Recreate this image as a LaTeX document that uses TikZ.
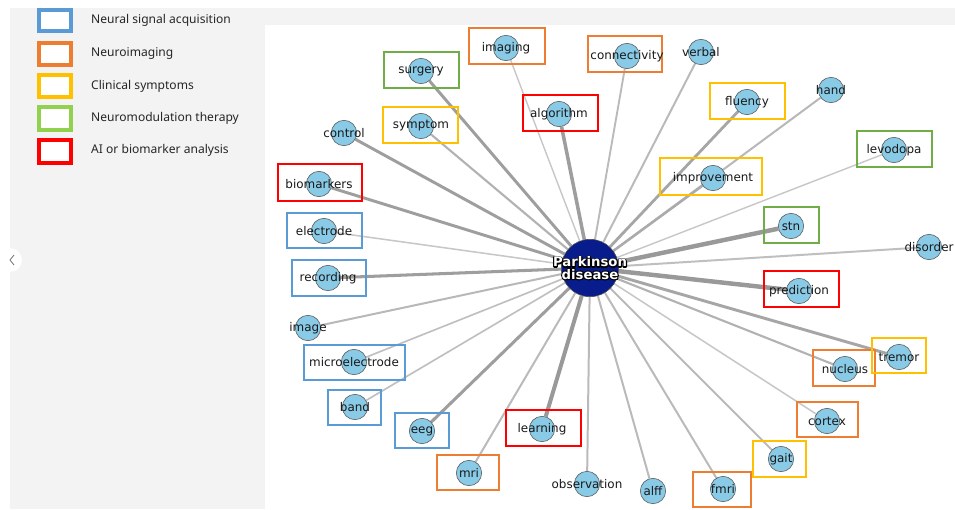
\documentclass[tikz,border=0pt]{standalone}
\usepackage{fontspec}
\setmainfont{DejaVu Sans}
\newfontfamily\legendfont{Noto Sans}
\usetikzlibrary{backgrounds}
\definecolor{panelgray}{RGB}{243,243,243}
\definecolor{sigblue}{RGB}{91,155,213}
\definecolor{imgorange}{RGB}{237,125,49}
\definecolor{symyellow}{RGB}{255,192,0}
\definecolor{modgreen}{RGB}{112,173,71}
\definecolor{modgreenlt}{RGB}{146,208,80}
\definecolor{aired}{RGB}{255,0,0}
\definecolor{termblue}{RGB}{137,202,230}
\definecolor{hubblue}{RGB}{8,28,140}
% white word with a dark halo: stroked copy under the filled one
\newcommand{\haloword}[1]{\rlap{\special{pdf:literal direct 1 Tr 1.9 w 0 G 1 j}#1\special{pdf:literal direct 0 Tr}}#1}
\pgfdeclarelayer{back}
\pgfdeclarelayer{links}
\pgfsetlayers{back,links,main}

\begin{document}
\begin{tikzpicture}[x=0.3mm, y=-0.3mm,
    term/.style={circle, fill=termblue, draw=black!65, line width=0.5pt, minimum size=7.6mm, inner sep=0pt},
    word/.style={font=\fontsize{10.2}{12}\selectfont, text=black!90, inner sep=0pt},
    hub/.style={circle, fill=hubblue, draw=black!70, line width=0.5pt, minimum size=17.2mm, inner sep=0pt},
    catbox/.style={draw=#1, line width=2.1pt},
    keybox/.style={draw=#1, line width=3.2pt, fill=white},
    keytext/.style={font=\legendfont\fontsize{10.3}{12}\selectfont, anchor=west, text=black!85, inner sep=0pt},
    link/.style={draw=black!#1, line cap=butt}]
  \useasboundingbox (0,0) rectangle (955,509);

  % panels
  \begin{pgfonlayer}{back}
    \fill[white] (0,0) rectangle (955,509);
    \fill[panelgray] (10,8) rectangle (265,509);
    \fill[panelgray] (265,8) rectangle (955,25);
    \fill[white] (10,260) circle (12);
    \draw[black!55, line width=0.7pt] (14,255) -- (10,260) -- (14,265);
  \end{pgfonlayer}

  % legend
  \draw[keybox=sigblue] (39,10) rectangle (71,31);
  \node[keytext] (key1) at (91,20) {Neural signal acquisition};
  \draw[keybox=imgorange] (39,43) rectangle (71,65);
  \node[keytext] (key2) at (91,53) {Neuroimaging};
  \draw[keybox=symyellow] (39,75) rectangle (71,97);
  \node[keytext] (key3) at (91,86) {Clinical symptoms};
  \draw[keybox=modgreenlt] (39,107) rectangle (71,130);
  \node[keytext] (key4) at (91,118) {Neuromodulation therapy};
  \draw[keybox=aired] (39,140) rectangle (71,163);
  \node[keytext] (key5) at (91,150) {AI or biomarker analysis};

  % category boxes
  \draw[catbox=modgreen] (384,52) rectangle (459,88);
  \draw[catbox=imgorange] (469,28) rectangle (545,64);
  \draw[catbox=imgorange] (588,36) rectangle (662,72);
  \draw[catbox=aired] (523,95) rectangle (598,131);
  \draw[catbox=symyellow] (383,107) rectangle (458,143);
  \draw[catbox=aired] (278,164) rectangle (362,201);
  \draw[catbox=symyellow] (710,83) rectangle (785,119);
  \draw[catbox=modgreen] (857,131) rectangle (932,167);
  \draw[catbox=symyellow] (660,158) rectangle (762,195);
  \draw[catbox=sigblue] (287,213) rectangle (362,248);
  \draw[catbox=sigblue] (292,260) rectangle (366,296);
  \draw[catbox=sigblue] (304,345) rectangle (405,380);
  \draw[catbox=sigblue] (328,390) rectangle (381,425);
  \draw[catbox=sigblue] (395,413) rectangle (449,448);
  \draw[catbox=aired] (506,410) rectangle (581,446);
  \draw[catbox=imgorange] (437,455) rectangle (499,490);
  \draw[catbox=modgreen] (764,207) rectangle (819,243);
  \draw[catbox=aired] (764,271) rectangle (839,307);
  \draw[catbox=imgorange] (813,350) rectangle (875,386);
  \draw[catbox=symyellow] (872,338) rectangle (926,373);
  \draw[catbox=imgorange] (797,402) rectangle (858,437);
  \draw[catbox=symyellow] (753,441) rectangle (806,477);
  \draw[catbox=imgorange] (693,472) rectangle (751,507);

  % terms
  \node[hub] (pd) at (590,268) {};
  \node[term] (surgery) at (421,71) {};
  \node[term] (imaging) at (506,48) {};
  \node[term] (connectivity) at (627,56) {};
  \node[term] (algorithm) at (559,114) {};
  \node[term] (control) at (344,133) {};
  \node[term] (symptom) at (421,126) {};
  \node[term] (biomarkers) at (319,184) {};
  \node[term] (verbal) at (701,52) {};
  \node[term] (fluency) at (747,102) {};
  \node[term] (hand) at (831,90) {};
  \node[term] (levodopa) at (894,150) {};
  \node[term] (improvement) at (713,178) {};
  \node[term] (electrode) at (324,231) {};
  \node[term] (recording) at (328,278) {};
  \node[term] (image) at (308,328) {};
  \node[term] (microelectrode) at (354,362) {};
  \node[term] (band) at (355,407) {};
  \node[term] (eeg) at (422,431) {};
  \node[term] (learning) at (542,429) {};
  \node[term] (mri) at (469,473) {};
  \node[term] (observation) at (587,484) {};
  \node[term] (stn) at (791,226) {};
  \node[term] (disorder) at (929,247) {};
  \node[term] (prediction) at (799,291) {};
  \node[term] (tremor) at (899,357) {};
  \node[term] (nucleus) at (845,369) {};
  \node[term] (cortex) at (827,421) {};
  \node[term] (gait) at (781,459) {};
  \node[term] (fmri) at (723,489) {};
  \node[term] (alff) at (653,491) {};

  % links to the hub
  \begin{pgfonlayer}{links}
    \draw[link=38, line width=2.5pt] (pd) -- (surgery);
    \draw[link=22, line width=1.2pt] (pd) -- (imaging);
    \draw[link=27, line width=1.6pt] (pd) -- (connectivity);
    \draw[link=38, line width=3pt] (pd) -- (algorithm);
    \draw[link=38, line width=2.5pt] (pd) -- (control);
    \draw[link=30, line width=1.8pt] (pd) -- (symptom);
    \draw[link=38, line width=2.5pt] (pd) -- (biomarkers);
    \draw[link=27, line width=1.7pt] (pd) -- (verbal);
    \draw[link=35, line width=2.4pt] (pd) -- (fluency);
    \draw[link=28, line width=1.7pt] (pd) -- (hand);
    \draw[link=22, line width=1.2pt] (pd) -- (levodopa);
    \draw[link=33, line width=2.1pt] (pd) -- (improvement);
    \draw[link=22, line width=1.3pt] (pd) -- (electrode);
    \draw[link=38, line width=2.6pt] (pd) -- (recording);
    \draw[link=28, line width=1.7pt] (pd) -- (image);
    \draw[link=25, line width=1.4pt] (pd) -- (microelectrode);
    \draw[link=25, line width=1.4pt] (pd) -- (band);
    \draw[link=38, line width=2.6pt] (pd) -- (eeg);
    \draw[link=40, line width=3.4pt] (pd) -- (learning);
    \draw[link=27, line width=1.7pt] (pd) -- (mri);
    \draw[link=27, line width=1.7pt] (pd) -- (observation);
    \draw[link=40, line width=3.8pt] (pd) -- (stn);
    \draw[link=25, line width=1.7pt] (pd) -- (disorder);
    \draw[link=40, line width=3.8pt] (pd) -- (prediction);
    \draw[link=35, line width=2.5pt] (pd) -- (tremor);
    \draw[link=30, line width=1.8pt] (pd) -- (nucleus);
    \draw[link=22, line width=1.3pt] (pd) -- (cortex);
    \draw[link=27, line width=1.7pt] (pd) -- (gait);
    \draw[link=27, line width=1.7pt] (pd) -- (fmri);
    \draw[link=27, line width=1.7pt] (pd) -- (alff);
  \end{pgfonlayer}

  % labels
  \node[text=white, align=center, font=\bfseries\fontsize{11.3}{10.5}\selectfont, inner sep=0pt]
    (pd-t) at (pd) {\haloword{Parkinson}\\\haloword{disease}};
  \node[word] (surgery-t) at (surgery) {surgery};
  \node[word] (imaging-t) at (imaging) {imaging};
  \node[word] (connectivity-t) at (connectivity) {connectivity};
  \node[word] (algorithm-t) at (algorithm) {algorithm};
  \node[word] (control-t) at (control) {control};
  \node[word] (symptom-t) at (symptom) {symptom};
  \node[word] (biomarkers-t) at (biomarkers) {biomarkers};
  \node[word] (verbal-t) at (verbal) {verbal};
  \node[word] (fluency-t) at (fluency) {fluency};
  \node[word] (hand-t) at (hand) {hand};
  \node[word] (levodopa-t) at (levodopa) {levodopa};
  \node[word] (improvement-t) at (improvement) {improvement};
  \node[word] (electrode-t) at (electrode) {electrode};
  \node[word] (recording-t) at (recording) {recording};
  \node[word] (image-t) at (image) {image};
  \node[word] (microelectrode-t) at (microelectrode) {microelectrode};
  \node[word] (band-t) at (band) {band};
  \node[word] (eeg-t) at (eeg) {eeg};
  \node[word] (learning-t) at (learning) {learning};
  \node[word] (mri-t) at (mri) {mri};
  \node[word] (observation-t) at (observation) {observation};
  \node[word] (stn-t) at (stn) {stn};
  \node[word] (disorder-t) at (disorder) {disorder};
  \node[word] (prediction-t) at (prediction) {prediction};
  \node[word] (tremor-t) at (tremor) {tremor};
  \node[word] (nucleus-t) at (nucleus) {nucleus};
  \node[word] (cortex-t) at (cortex) {cortex};
  \node[word] (gait-t) at (gait) {gait};
  \node[word] (fmri-t) at (fmri) {fmri};
  \node[word] (alff-t) at (alff) {alff};
\end{tikzpicture}
\end{document}
